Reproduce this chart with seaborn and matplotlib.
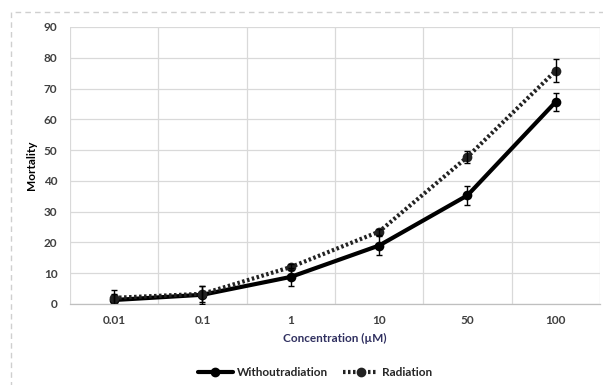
import matplotlib
matplotlib.use("Agg")
import matplotlib.pyplot as plt
import seaborn as sns
import pandas as pd
from matplotlib.patches import Rectangle
from matplotlib.lines import Line2D

categories = ["0.01", "0.1", "1", "10", "50", "100"]
without_vals = [1.3, 3.0, 8.8, 19.0, 35.3, 65.7]
without_err = [2.0, 3.0, 3.0, 3.0, 3.0, 3.0]
radiation_vals = [2.0, 3.3, 12.0, 23.5, 47.8, 75.8]
radiation_err = [2.5, 2.5, 1.0, 1.0, 2.0, 3.8]
series_names = ["Withoutradiation", "Radiation"]

sns.set_theme(style="white")
plt.rcParams['font.family'] = ['Lato', 'DejaVu Sans']

fig = plt.figure(figsize=(6.03, 3.85), dpi=100)
ax = fig.add_axes([0.116, 0.2104, 0.879, 0.7195])

df = pd.DataFrame({
    "Concentration": categories * 2,
    "Mortality": without_vals + radiation_vals,
    "Series": [series_names[0]] * 6 + [series_names[1]] * 6,
})

sns.lineplot(data=df, x="Concentration", y="Mortality", hue="Series",
             style="Series", palette=["black", "#222222"],
             dashes={series_names[0]: "", series_names[1]: (0.6, 0.6)},
             markers={series_names[0]: "o", series_names[1]: "o"},
             markersize=7, linewidth=3, markeredgewidth=0, ax=ax,
             legend=False, sort=False)

xs = list(range(len(categories)))
ax.errorbar(xs, without_vals, yerr=without_err, fmt="none", ecolor="black",
            elinewidth=1, capsize=2.5, capthick=1, zorder=5)
ax.errorbar(xs, radiation_vals, yerr=radiation_err, fmt="none", ecolor="black",
            elinewidth=1, capsize=2.5, capthick=1, zorder=5)

ax.set_xlim(-0.5, 5.5)
ax.set_ylim(0, 90)
ax.set_yticks(range(0, 91, 10))
ax.set_xticks(xs)
ax.set_xticklabels(categories)
ax.set_xticks([i - 0.5 for i in range(len(categories) + 1)], minor=True)
ax.grid(False)
ax.grid(True, which="minor", axis="x", color="#d9d9d9", linewidth=0.9)
ax.grid(True, which="major", axis="y", color="#d9d9d9", linewidth=0.9)
ax.set_axisbelow(True)
for s in ["top", "right", "left"]:
    ax.spines[s].set_visible(False)
ax.spines["bottom"].set_color("#bfbfbf")
ax.spines["bottom"].set_linewidth(0.9)
ax.tick_params(axis="both", which="both", length=0, labelsize=8.5,
               colors="#404040")
ax.tick_params(axis="y", pad=9)
ax.tick_params(axis="x", pad=8)
for lbl in ax.get_xticklabels() + ax.get_yticklabels():
    lbl.set_fontweight("bold")
ax.set_xlabel("Concentration (µM)", fontsize=8.5, fontweight="bold",
              color="#303060", labelpad=5)
ax.set_ylabel("Mortality", fontsize=8.5, fontweight="bold", color="black",
              labelpad=5)

handles = [
    Line2D([], [], color="black", lw=3, marker="o", markersize=6),
    Line2D([], [], color="#222222", lw=3, ls=(0, (0.6, 0.6)), marker="o", markersize=6),
]
fig.legend(handles, series_names, loc="center", bbox_to_anchor=(0.522, 0.033),
           ncol=2, frameon=False, handlelength=3.0,
           columnspacing=1.3, handletextpad=0.3, prop={"weight": "bold", "size": 8.5})

fig.patches.append(Rectangle((0.018, -0.01), 1.0, 0.98, transform=fig.transFigure,
                             fill=False, edgecolor="#cfcfcf", linestyle=(0, (4, 3)),
                             linewidth=1))

fig.savefig("out.png", dpi=100)
